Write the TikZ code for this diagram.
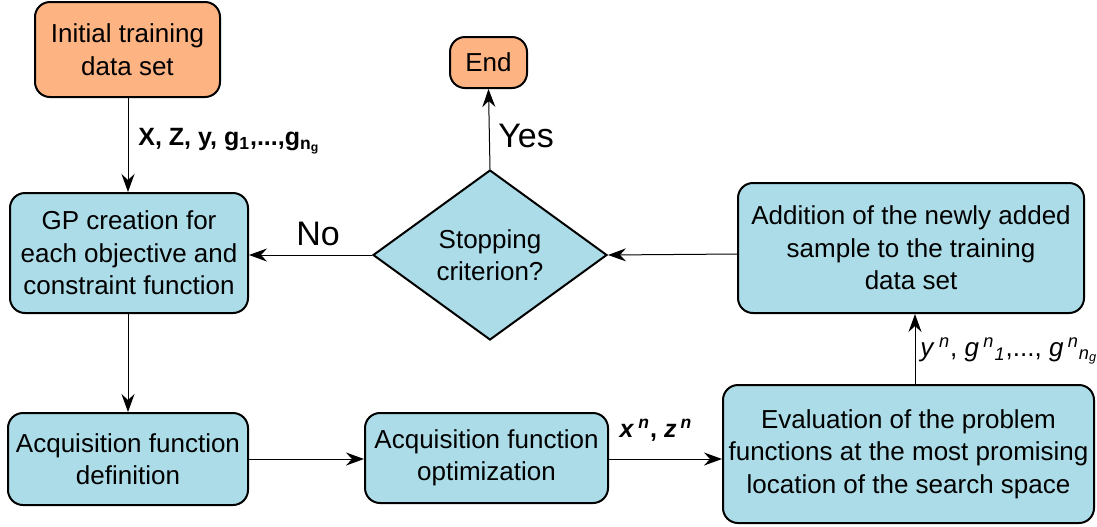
\documentclass[tikz,border=0pt]{standalone}
\usepackage{fontspec}
\setmainfont{Liberation Sans}
\usetikzlibrary{shapes.geometric,arrows.meta}

\definecolor{startorange}{RGB}{253,179,130}
\definecolor{stepblue}{RGB}{172,220,231}

\tikzset{
    flowbox/.style={draw, line width=1pt, rounded corners=7.5pt, fill=stepblue, align=center, inner sep=0pt,
        font=\fontsize{13}{16.2}\selectfont},
    flowarrow/.style={-{Stealth[length=9pt,width=6.5pt,inset=3pt]}, line width=0.5pt},
    flowlabel/.style={font=\fontsize{12.5}{14}\selectfont, inner sep=0pt}
}

\begin{document}
\begin{tikzpicture}[x=0.5pt,y=-0.5pt]
    \useasboundingbox (0,0) rectangle (1097,526);

    % Boxes
    \node[flowbox, fill=startorange, minimum width=92.5pt, minimum height=47.5pt] (init) at (127.5,49.5) {Initial training\\data set};
    \node[flowbox, fill=startorange, minimum width=38.5pt, minimum height=25.5pt] (finish) at (488.5,62.5) {End};
    \node[flowbox, minimum width=119pt, minimum height=60pt] (gp) at (129,253) {GP creation for\\each objective and\\constraint function};
    \node[flowbox, diamond, rounded corners=0pt, minimum width=117pt, minimum height=85pt] (stop) at (490,255) {Stopping\\criterion?};
    \node[flowbox, minimum width=173pt, minimum height=65pt] (addsample) at (911,248) {Addition of the newly added\\sample to the training\\data set};
    \node[flowbox, minimum width=120pt, minimum height=46pt] (acqdef) at (128,459) {Acquisition function\\definition};
    \node[flowbox, minimum width=121.5pt, minimum height=45pt] (acqopt) at (486.5,458) {Acquisition function\\optimization};
    \node[flowbox, minimum width=185.5pt, minimum height=69pt] (evalfun) at (908.5,454) {Evaluation of the problem\\functions at the most promising\\location of the search space};

    % Arrows
    \draw[flowarrow] (init.south -| 128,0) -- (gp.north -| 128,0);
    \draw[flowarrow] (gp.south -| 128,0) -- (acqdef.north -| 128,0);
    \draw[flowarrow] (acqdef.east |- 0,459) -- (acqopt.west |- 0,459);
    \draw[flowarrow] (acqopt.east |- 0,459) -- (evalfun.west |- 0,459);
    \draw[flowarrow] (evalfun.north -| 915,0) -- (addsample.south -| 915,0);
    \draw[flowarrow] (addsample.west |- 0,254) -- (stop.east);
    \draw[flowarrow] (stop.west) -- (gp.east |- stop.west);
    \draw[flowarrow] (stop.north) -- (finish.south);

    % Labels
    \node[flowlabel, anchor=west] (datalbl) at (138,141) {\textbf{X, Z, y, g\textsubscript{1},...,g\textsubscript{n\textsubscript{g}}}};
    \node[flowlabel, font=\fontsize{17}{19}\selectfont] (yeslbl) at (526,136) {Yes};
    \node[flowlabel, font=\fontsize{17}{19}\selectfont] (nolbl) at (318,234) {No};
    \node[flowlabel] (xzlbl) at (656,430) {\textbf{\textit{x}\,\textsuperscript{\textit{n}}, \textit{z}\,\textsuperscript{\textit{n}}}};
    \node[flowlabel, font=\fontsize{13}{15}\selectfont, anchor=west] (yglbl) at (920,351) {\textit{y}\,\textsuperscript{\textit{n}}, \textit{g}\,\textsuperscript{\textit{n}}\textsubscript{\textit{1}},..., \textit{g}\,\textsuperscript{\textit{n}}\textsubscript{\textit{n\textsubscript{g}}}};
\end{tikzpicture}
\end{document}
